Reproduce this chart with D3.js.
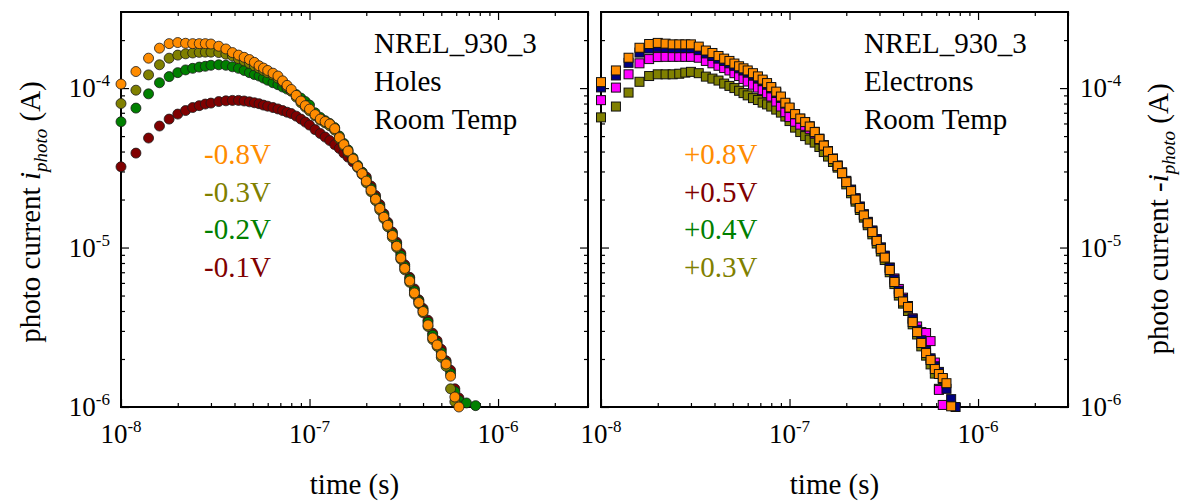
<!DOCTYPE html>
<html>
<head>
<meta charset="utf-8">
<script src="https://cdn.jsdelivr.net/npm/d3@7"></script>
<style>
  body { margin: 0; background: #fff; }
  svg { display: block; }
  text { font-family: "Liberation Serif", "Times New Roman", serif; fill: #000; }
</style>
</head>
<body>
<svg id="chart" width="1183" height="502"></svg>
<script>
// Sampling times (ns), shared by every transient below
const timeNs = [10,12,14,16,18,20,22,24,26,28,30,
  33,36,39,42,45,48,51,54,57,
  60,64,68,72,76,80,
  85,90,95,100,
  107,114,121,128,
  136,144,152,160,
  170,180,190,
  200,212,224,236,248,260,
  275,290,305,320,
  340,360,380,400,
  425,450,475,500,
  530,560,590,620,
  650,680,720,760];

// Hole photocurrent (µA) at negative bias
const holesM08 = [106,127,154,178,190,193,191,190,190,190,189,
  183,176,167,161,156,151,145,138,133.5,
  129,124,119,111,104,98,
  90,83,77.6,73.8,
  68.2,63.9,61.7,59.5,
  55.7,48.9,44.2,40.3,
  35.9,32.2,29.1,
  26.1,22.9,20.1,17.6,15.5,13.8,
  11.9,10.2,8.6,7.4,
  6.17,5.19,4.52,3.97,
  3.27,2.71,2.45,2.12,
  1.86,1.56,1.155,1.0];
const holesM03 = [80,97,121,140,154,161,164,166,167.5,168,168,
  167,163,159,153,148,143,138,133.5,129,
  125,121,115.5,109,102,95.8,
  87.8,81,76,72,
  67,63,60.5,58,
  54.5,48,43.5,39.8,
  35.5,31.8,28.8,
  25.5,22.4,19.7,17.2,15.2,13.5,
  11.6,10.0,8.45,7.25,
  6.05,5.1,4.45,3.9,
  3.2,2.65,2.4,2.05,
  1.8,1.3,1.08];
const holesM02 = [61.5,74.9,92,108,118,125,130,133,135.4,137,139,
  140,139,136,133,129,125,121.5,119,115.5,
  112,108,105,101.5,98.6,95.8,
  91,86.5,82.3,78.2,
  70,65.5,62.5,60,
  56.5,50,45,41,
  36.5,32.8,29.6,
  26.8,23.5,20.5,18.0,15.9,14.1,
  12.2,10.5,8.9,7.6,
  6.35,5.35,4.62,4.05,
  3.4,2.82,2.52,2.2,
  1.9,1.62,1.25,1.1,
  null,1.06,null,1.02];
const holesM01 = [32.1,39.1,48.6,57.8,63.9,68.7,72.3,75.5,77.6,79.4,80.5,
  82.3,83.2,83.7,83.7,83,82,80.9,79.8,78.2,
  77,75.5,74,72.3,70.6,69.2,
  66.7,63.9,61.2,58.6,
  54.9,51.9,49.3,46.9,
  44.2,41.8,39.1,36.9,
  34.4,32.0,29.7,
  27.7,24.3,21.2,18.6,16.3,14.4,
  12.5,10.8,9.2,7.8,
  6.5,5.5,4.7,4.15,
  3.5,2.9,2.6,2.3,
  1.95,1.7,1.3,1.14];

// Electron photocurrent magnitude (µA) at positive bias
const elecP08 = [109,129,155,179,189,192,190,188,188,188,188,
  182,172,166,159,153,148,142.5,137,133,
  129,124,118.4,113,107.5,101.5,
  95,88.5,80.9,75.5,
  68.7,64.4,61.2,57.4,
  53,47.9,43.6,40,
  35.9,32.4,29.3,
  25.7,22.6,20.0,17.7,15.9,14.2,
  12.5,11.0,9.8,8.65,
  7.23,6.08,5.19,4.59,
  4.24,3.41,2.95,2.52,
  2.18,1.97,1.73,1.61,
  1.52,1.41,1.01];
const elecP05 = [101,120,144,167,177,180,179,178,178,178,178,
  173,165,159,153,148,143,138,133,129,
  125.5,121,115.5,110.5,105,99.5,
  93.2,87,80,75,
  68.5,64.3,61.3,57.6,
  53.2,48.2,43.9,40.3,
  36.2,32.7,29.6,
  26.2,23.1,20.4,18.1,16.2,14.5,
  12.8,11.3,10.0,8.9,
  7.45,6.3,5.35,4.75,
  4.3,3.55,3.05,2.62,
  2.26,2.02,1.8,1.66,
  1.5,1.3,1.12,1.0];
const elecP04 = [84,100.7,122,143,152,156.5,157,157,157,157,157,
  155,148,143,138,133.5,129,124,119,113.9,
  109.9,105,100.7,97.1,93,88.5,
  82.3,76.6,70.6,65.8,
  61.5,59,58,55.5,
  52,47.5,43.5,40,
  36,32.6,29.5,
  25.9,22.8,20.2,17.9,16.0,14.4,
  12.7,11.2,10.0,8.8,
  7.5,6.4,5.5,4.85,
  4.2,3.6,3.2,2.95,
  2.91,2.59,1.9,1.28,
  1.03];
const elecP03 = [65.5,76.6,93.7,109.5,119,122,122,122,123,125,126.4,
  124,118,114.7,111.5,106.7,103.2,100,96.2,93,
  90,86.5,84.2,81.1,79,76.6,
  73.3,70.2,66.3,62.1,
  56.5,53,50,47.5,
  45.5,42.7,39.7,37.2,
  34.4,31.7,29.1,
  24.9,21.9,19.4,17.2,15.4,13.8,
  12.1,10.6,9.45,8.35,
  7.0,5.9,5.0,4.45,
  4.0,3.3,2.85,2.4,
  2.1,1.85,1.62,1.3];

// Axis limits and tick labels
const timeDomain = [1e-8, 3e-6];
const currentDomain = [1e-6, 3e-4];
const xTickExponents = [-8, -7, -6];
const yTickExponents = [-6, -5, -4];

const holesLegend = ["-0.8V", "-0.3V", "-0.2V", "-0.1V"];
const holesLegendColors = ["#ff8c00", "#808000", "#008000", "#800000"];
const elecLegend = ["+0.8V", "+0.5V", "+0.4V", "+0.3V"];
const elecLegendColors = ["#ff8c00", "#800000", "#008000", "#808000"];

const svg = d3.select("#chart");
const plotTop = 12, plotBottom = 407;

const panels = [
  {
    x0: 121, x1: 588, marker: "circle", yLabelSide: "left",
    // drawn back to front
    series: [
      { values: holesM01, color: "#800000" },
      { values: holesM02, color: "#008000" },
      { values: holesM03, color: "#808000" },
      { values: holesM08, color: "#ff8c00" }
    ],
    notes: ["NREL_930_3", "Holes", "Room Temp"], notesX: 374,
    legend: holesLegend, legendColors: holesLegendColors, legendX: 204
  },
  {
    x0: 601, x1: 1068, marker: "square", yLabelSide: "right",
    series: [
      { values: elecP03, color: "#808000" },
      { values: elecP04, color: "#ff00ff" },
      { values: elecP05, color: "#000080" },
      { values: elecP08, color: "#ff8c00" }
    ],
    notes: ["NREL_930_3", "Electrons", "Room Temp"], notesX: 864,
    legend: elecLegend, legendColors: elecLegendColors, legendX: 684
  }
];

function minorTicks(domain) {
  const out = [];
  const lo = Math.floor(Math.log10(domain[0])), hi = Math.ceil(Math.log10(domain[1]));
  for (let e = lo; e < hi; e++) {
    for (let m = 2; m <= 9; m++) {
      const v = m * Math.pow(10, e);
      if (v >= domain[0] && v <= domain[1]) out.push(v);
    }
  }
  return out;
}

function powLabel(g, x, y, exp, anchor) {
  const t = g.append("text")
    .attr("x", x).attr("y", y)
    .attr("text-anchor", anchor)
    .style("font-size", "27px");
  t.append("tspan").text("10");
  t.append("tspan").attr("dy", -11).style("font-size", "17px").text(String(exp));
}

panels.forEach(p => {
  const x = d3.scaleLog().domain(timeDomain).range([p.x0, p.x1]);
  const y = d3.scaleLog().domain(currentDomain).range([plotBottom, plotTop]);
  const g = svg.append("g");

  const xMaj = xTickExponents.map(e => Math.pow(10, e));
  const yMaj = yTickExponents.map(e => Math.pow(10, e));
  const xMin = minorTicks(timeDomain);
  const yMin = minorTicks(currentDomain);

  // inward ticks on all four sides
  const axes = [
    [d3.axisBottom(x), `translate(0,${plotBottom})`, xMaj, xMin],
    [d3.axisTop(x), `translate(0,${plotTop})`, xMaj, xMin],
    [d3.axisLeft(y), `translate(${p.x0},0)`, yMaj, yMin],
    [d3.axisRight(y), `translate(${p.x1},0)`, yMaj, yMin]
  ];
  axes.forEach(([ax, tr, maj, min]) => {
    [[maj, 8], [min, 4]].forEach(([vals, len]) => {
      const a = g.append("g").attr("transform", tr)
        .call(ax.tickValues(vals).tickSize(-len).tickFormat(""));
      a.select(".domain").remove();
      a.selectAll(".tick line").attr("stroke", "#000").attr("stroke-width", 1.2);
    });
  });

  // frame
  g.append("rect")
    .attr("x", p.x0).attr("y", plotTop)
    .attr("width", p.x1 - p.x0).attr("height", plotBottom - plotTop)
    .attr("fill", "none").attr("stroke", "#000").attr("stroke-width", 2);

  // x tick labels
  xMaj.forEach((v, i) => powLabel(g, x(v), plotBottom + 36, xTickExponents[i], "middle"));
  // y tick labels
  yMaj.forEach((v, i) => {
    if (p.yLabelSide === "left") powLabel(g, p.x0 - 11, y(v) + 9, yTickExponents[i], "end");
    else powLabel(g, p.x1 + 12, y(v) + 9, yTickExponents[i], "start");
  });

  // data markers
  p.series.forEach(s => {
    const pts = s.values
      .map((v, i) => ({ t: timeNs[i] * 1e-9, c: v == null ? null : v * 1e-6 }))
      .filter(d => d.c != null && d.c >= currentDomain[0]);
    const mg = g.append("g");
    if (p.marker === "circle") {
      mg.selectAll("circle").data(pts).join("circle")
        .attr("cx", d => x(d.t)).attr("cy", d => y(d.c)).attr("r", 5)
        .attr("fill", s.color).attr("stroke", "#1a1a1a").attr("stroke-width", 0.8);
    } else {
      const h = 4.5;
      mg.selectAll("rect").data(pts).join("rect")
        .attr("x", d => x(d.t) - h).attr("y", d => y(d.c) - h)
        .attr("width", 2 * h).attr("height", 2 * h)
        .attr("fill", s.color).attr("stroke", "#111").attr("stroke-width", 1);
    }
  });

  // sample annotation
  p.notes.forEach((n, i) => {
    g.append("text").attr("x", p.notesX).attr("y", 53 + i * 38)
      .style("font-size", "29px").text(n);
  });
  // bias legend
  p.legend.forEach((n, i) => {
    g.append("text").attr("x", p.legendX).attr("y", 164 + i * 37.5)
      .style("font-size", "29px").style("fill", p.legendColors[i]).text(n);
  });

  // x title
  g.append("text").attr("x", (p.x0 + p.x1) / 2).attr("y", 494)
    .attr("text-anchor", "middle").style("font-size", "29px").text("time (s)");
});

// y titles
function yTitle(xPos, yCenter, prefix) {
  const t = svg.append("text")
    .attr("transform", `translate(${xPos},${yCenter}) rotate(-90)`)
    .attr("text-anchor", "middle").style("font-size", "29px");
  t.append("tspan").text(prefix);
  t.append("tspan").style("font-style", "italic").text("i");
  t.append("tspan").style("font-style", "italic").style("font-size", "19px").attr("dy", 7).text("photo");
  t.append("tspan").attr("dy", -7).text(" (A)");
}
yTitle(40, 212, "photo current ");
yTitle(1168, 219, "photo current -");
</script>
</body>
</html>
